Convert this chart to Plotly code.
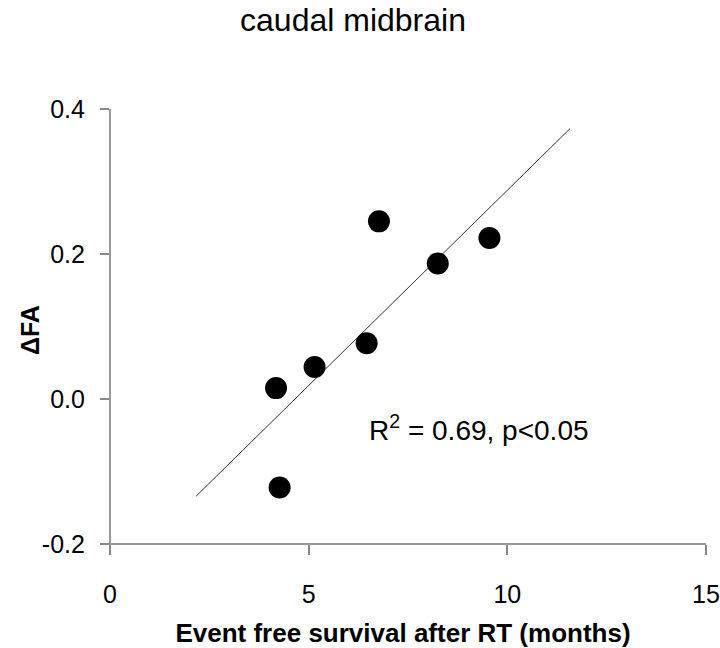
import plotly.graph_objects as go

# Data
survival_months = [4.18, 4.27, 5.15, 6.46, 6.77, 8.25, 9.55]
delta_fa = [0.015, -0.122, 0.044, 0.077, 0.245, 0.187, 0.222]
fit_x = [2.17, 11.58]
fit_y = [-0.134, 0.373]

x_ticks = [0, 5, 10, 15]
y_ticks = [-0.2, 0.0, 0.2, 0.4]
y_tick_labels = ["-0.2", "0.0", "0.2", "0.4"]

xmin, xmax = -0.25, 15
ymin, ymax = -0.2097, 0.4

fig = go.Figure()
fig.add_trace(go.Scatter(x=fit_x, y=fit_y, mode="lines",
                         line=dict(color="#333333", width=1), showlegend=False))
fig.add_trace(go.Scatter(x=survival_months, y=delta_fa, mode="markers",
                         marker=dict(color="black", size=22), showlegend=False))

font_family = "Liberation Sans, Arial, sans-serif"

W, H = 720, 648
ML, MR, MT, MB = 100, 14, 109, 97

fig.update_layout(
    template="none",
    width=W, height=H,
    margin=dict(l=ML, r=MR, t=MT, b=MB),
    paper_bgcolor="white", plot_bgcolor="white",
    font=dict(family=font_family, color="black", size=25),
    title=dict(text="caudal midbrain", x=353 / W, xref="container", xanchor="center",
               y=1 - 20 / H, yref="container", yanchor="middle",
               font=dict(size=32, family=font_family, color="black")),
    xaxis=dict(range=[xmin, xmax], tickvals=x_ticks, ticks="outside", ticklen=10,
               tickcolor="#888888", tickwidth=1.5, showline=True, linecolor="#999999",
               linewidth=2, showgrid=False, zeroline=False, automargin=False,
               anchor="free", position=(-0.2 - ymin) / (ymax - ymin),
               ticklabelstandoff=18, tickfont=dict(size=25),
               title=dict(text="<b>Event free survival after RT (months)</b>",
                          font=dict(size=26), standoff=17)),
    yaxis=dict(range=[ymin, ymax], tickvals=y_ticks, ticktext=y_tick_labels,
               ticks="outside", ticklen=9, tickcolor="#888888", tickwidth=1.5,
               showline=True, linecolor="#999999", linewidth=2, showgrid=False,
               zeroline=False, automargin=False,
               anchor="free", position=(0 - xmin) / (xmax - xmin),
               ticklabelstandoff=10, tickfont=dict(size=25)),
)

# y-axis title
fig.add_annotation(x=(30 - ML) / (W - ML - MR), y=0.5, xref="paper", yref="paper",
                   xanchor="center", yanchor="middle", textangle=-90,
                   text="<b>ΔFA</b>", showarrow=False,
                   font=dict(size=25, color="black", family=font_family))

fig.add_annotation(x=6.46, y=-0.04, xref="x", yref="y", xanchor="left", yanchor="middle",
                   text="R<sup>2</sup> = 0.69, p<0.05", showarrow=False,
                   font=dict(size=28, color="black", family=font_family))

# remove the browser's default body margin so the 720x648 figure fills the window
fig.write_html("out.html", config={"displayModeBar": False},
               post_script="document.body.style.margin='0px';document.body.style.overflow='hidden';")
